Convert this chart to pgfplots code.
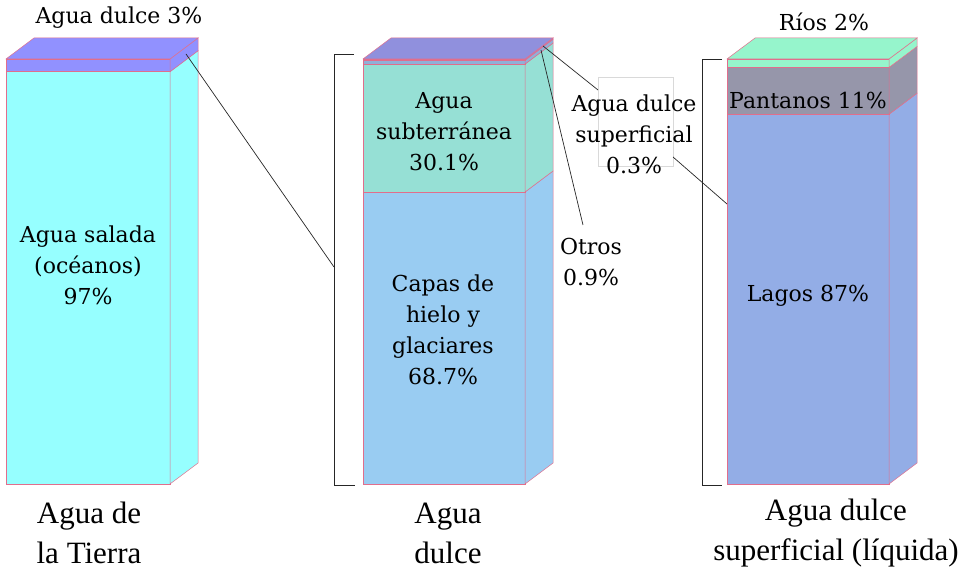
\documentclass[border=0pt]{standalone}
\usepackage{fontspec}
\setmainfont{DejaVu Serif}
\newfontfamily\bigfont{Liberation Serif}
\usepackage{pgfplots}
\pgfplotsset{compat=1.18}

\definecolor{edge}{RGB}{225,110,140}
\definecolor{salt}{RGB}{150,255,255}
\definecolor{fresh}{RGB}{145,145,255}
\definecolor{ice}{RGB}{153,204,242}
\definecolor{ground}{RGB}{150,224,213}
\definecolor{other}{RGB}{144,176,216}
\definecolor{surf}{RGB}{144,144,221}
\definecolor{lakes}{RGB}{147,173,230}
\definecolor{swamp}{RGB}{150,150,170}
\definecolor{river}{RGB}{150,245,204}

% depth of the 3d boxes: x in px, y in percent units
\def\dx{28}
\def\dy{4.94}

% one layer of a bar: front face and right side
\newcommand{\layer}[5]{%
  \pgfmathsetmacro{\xb}{#2+\dx}%
  \pgfmathsetmacro{\ylo}{#3+\dy}%
  \pgfmathsetmacro{\yhi}{#4+\dy}%
  \edef\doit{%
    \noexpand\addplot[fill=#5, draw=edge, line width=0.5pt] coordinates {(#1,#3) (#2,#3) (#2,#4) (#1,#4)} --cycle;
    \noexpand\addplot[fill=#5, draw=edge, line width=0.5pt] coordinates {(#2,#3) (\xb,\ylo) (\xb,\yhi) (#2,#4)} --cycle;
  }\doit}
% top face of a bar
\newcommand{\topface}[4]{%
  \pgfmathsetmacro{\xa}{#1+\dx}%
  \pgfmathsetmacro{\xb}{#2+\dx}%
  \pgfmathsetmacro{\yhi}{#3+\dy}%
  \edef\doit{%
    \noexpand\addplot[fill=#4, draw=edge, line width=0.5pt] coordinates {(#1,#3) (#2,#3) (\xb,\yhi) (\xa,\yhi)} --cycle;
  }\doit}

\begin{document}
\begin{tikzpicture}
\useasboundingbox (0,0) rectangle (959pt,573pt);
\begin{axis}[
    scale only axis,
    width=959pt, height=573pt,
    xmin=0, xmax=959,
    ymin=-20.941, ymax=113.882,
    hide axis,
    clip=false,
    every axis plot/.append style={mark=none},
]
% Agua de la Tierra
\layer{6}{170}{0}{97}{salt}
\layer{6}{170}{97}{100}{fresh}
\topface{6}{170}{100}{fresh}
% Agua dulce
\layer{363}{525}{0}{68.7}{ice}
\layer{363}{525}{68.7}{98.8}{ground}
\layer{363}{525}{98.8}{99.7}{other}
\layer{363}{525}{99.7}{100}{surf}
\topface{363}{525}{100}{surf}
% Agua dulce superficial
\layer{727}{889}{0}{87}{lakes}
\layer{727}{889}{87}{98}{swamp}
\layer{727}{889}{98}{100}{river}
\topface{727}{889}{100}{river}
\end{axis}

% annotations in pixel coordinates (y downwards)
\begin{scope}[shift={(0pt,573pt)}, x=1pt, y=-1pt]
\draw[black!15, line width=0.5pt] (598,77) rectangle (673,166);
\draw[black!85, line width=0.9pt] (354,54) -- (334,54) -- (334,485) -- (355,485);
\draw[black!85, line width=0.9pt] (722,59) -- (702,59) -- (702,485) -- (722,485);
\draw[black!85, line width=0.7pt] (186,54) -- (334,267);
\draw[black!85, line width=0.7pt] (543,46) -- (598,90);
\draw[black!85, line width=0.7pt] (541,50) -- (583,225);
\draw[black!85, line width=0.7pt] (673,157) -- (727,204);

\begin{scope}[every node/.style={font=\fontsize{22}{31}\selectfont, align=center, inner sep=0pt}]
\node at (119,18) {Agua dulce 3\%};
\node at (88,265) {Agua salada\\(océanos)\\97\%};
\node at (444,132) {Agua\\subterránea\\30.1\%};
\node at (443,330) {Capas de\\hielo y\\glaciares\\68.7\%};
\node at (634,134) {Agua dulce\\superficial\\0.3\%};
\node at (591,262) {Otros\\0.9\%};
\node at (824,22) {Ríos 2\%};
\node at (808,100) {Pantanos 11\%};
\node at (808,296) {Lagos 87\%};
\end{scope}
\begin{scope}[every node/.style={font=\bigfont\fontsize{31}{40}\selectfont, align=center, inner sep=0pt}]
\node at (89,533) {Agua de\\la Tierra};
\node at (448,533) {Agua\\dulce};
\node at (836,533) {Agua dulce\\superficial (líquida)};
\end{scope}
\end{scope}
\end{tikzpicture}
\end{document}
